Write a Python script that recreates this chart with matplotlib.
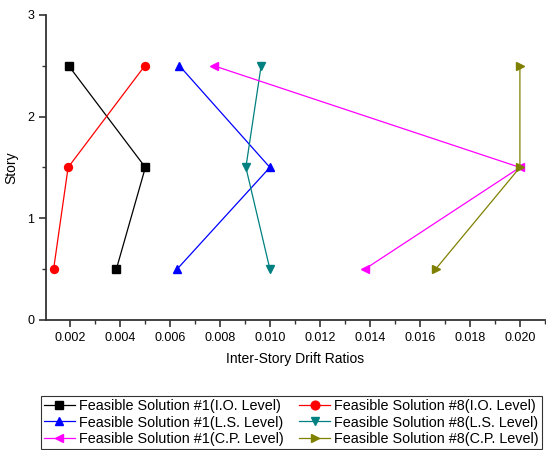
import numpy as np
import matplotlib

matplotlib.use("Agg")
import matplotlib.pyplot as plt
from matplotlib.ticker import MultipleLocator

plt.rcParams["font.family"] = ["Liberation Sans", "DejaVu Sans"]

# Story levels (mid-height of each story)
stories = [2.5, 1.5, 0.5]

# Inter-story drift ratios
fs1_io = [0.00195, 0.00502, 0.00386]
fs8_io = [0.00500, 0.00193, 0.00135]
fs1_ls = [0.00638, 0.01000, 0.00629]
fs8_ls = [0.00965, 0.00904, 0.01000]
fs1_cp = [0.00775, 0.02000, 0.01380]
fs8_cp = [0.02000, 0.02000, 0.01663]

series = [
    (fs1_io, "Feasible Solution #1(I.O. Level)", "black", "s"),
    (fs8_io, "Feasible Solution #8(I.O. Level)", "red", "o"),
    (fs1_ls, "Feasible Solution #1(L.S. Level)", "blue", "^"),
    (fs8_ls, "Feasible Solution #8(L.S. Level)", "#008080", "v"),
    (fs1_cp, "Feasible Solution #1(C.P. Level)", "#ff00ff", "<"),
    (fs8_cp, "Feasible Solution #8(C.P. Level)", "#808000", ">"),
]

fig = plt.figure(figsize=(5.46, 4.5), dpi=100)
ax = fig.add_axes([0.084, 0.289, 0.914, 0.678])

handles = []
for xs, label, color, marker in series:
    h, = ax.plot(xs, stories, color=color, marker=marker, markersize=5.7,
                 linewidth=0.9, label=label)
    handles.append(h)

ax.set_xlim(0.00104, 0.0210)
ax.set_ylim(0, 3)
ax.xaxis.set_major_locator(MultipleLocator(0.002))
ax.xaxis.set_minor_locator(MultipleLocator(0.001))
ax.yaxis.set_major_locator(MultipleLocator(1))
ax.yaxis.set_minor_locator(MultipleLocator(0.5))
ax.xaxis.set_major_formatter(plt.FormatStrFormatter("%.3f"))

for side in ("top", "right"):
    ax.spines[side].set_visible(False)
for side in ("left", "bottom"):
    ax.spines[side].set_linewidth(1.3)
    ax.spines[side].set_color("#333333")

ax.tick_params(which="major", direction="out", length=5, width=1.2,
               labelsize=9, color="#333333")
ax.tick_params(which="minor", direction="out", length=3, width=1.0,
               color="#333333")

ax.set_xlabel("Inter-Story Drift Ratios", fontsize=10, labelpad=6)
ax.set_ylabel("Story", fontsize=10, labelpad=6)

# legend is filled column by column, so put the #1 series in the first column
order = [0, 2, 4, 1, 3, 5]
leg = fig.legend([handles[i] for i in order], [series[i][1] for i in order],
                 loc="lower left", bbox_to_anchor=(41 / 546, 1 / 450),
                 ncol=2, fontsize=10.4, frameon=True, markerscale=1.1,
                 fancybox=False, edgecolor="black", handlelength=2.2,
                 handletextpad=0.28, columnspacing=1.0, borderaxespad=0,
                 borderpad=0.18, labelspacing=0.2)
leg.get_frame().set_linewidth(0.8)

fig.savefig("out.png", dpi=100)
